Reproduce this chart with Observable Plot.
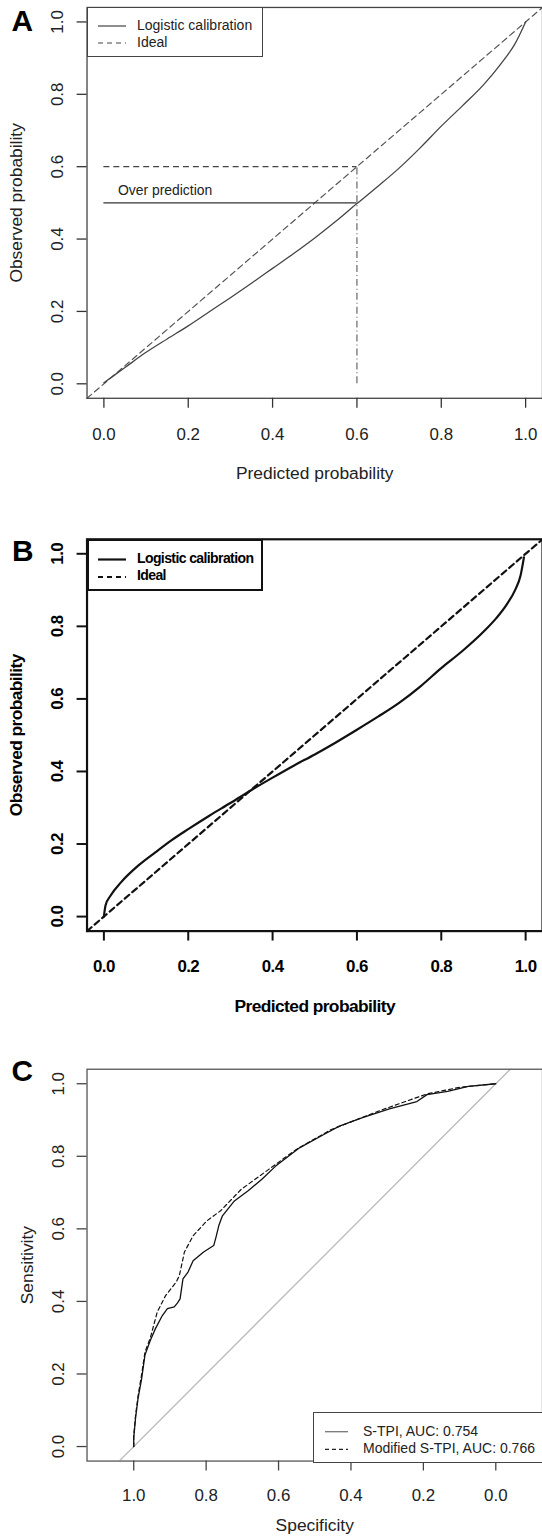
<!DOCTYPE html>
<html><head><meta charset="utf-8">
<script src="https://cdn.jsdelivr.net/npm/d3@7"></script>
<script src="https://cdn.jsdelivr.net/npm/@observablehq/plot@0.6"></script>
<style>
html,body{margin:0;padding:0;background:#fff;overflow:hidden;}
#wrap{position:relative;width:542px;height:1539px;overflow:hidden;font-family:"Liberation Sans",Arial,Helvetica,sans-serif;}
.panel{position:absolute;left:0;}
.legend{position:absolute;background:#fff;box-sizing:border-box;font-size:14px;}
.legend span{position:absolute;white-space:nowrap;line-height:14px;}
.legend svg{position:absolute;overflow:visible;}
</style></head>
<body><div id="wrap"></div>
<script>
// ---------- data ----------
const probTicks = [0, 0.2, 0.4, 0.6, 0.8, 1.0];
const specTicks = [1.0, 0.8, 0.6, 0.4, 0.2, 0.0];
const sensTicks = [0, 0.2, 0.4, 0.6, 0.8, 1.0];

// Panel A: logistic calibration curve
const calibA_x = [0, 0.05, 0.1, 0.15, 0.2, 0.25, 0.3, 0.35, 0.4, 0.45, 0.5, 0.55, 0.6, 0.65, 0.7, 0.75, 0.8, 0.85, 0.9, 0.94, 0.975, 1.0];
const calibA_y = [0.003, 0.045, 0.087, 0.124, 0.160, 0.199, 0.238, 0.278, 0.319, 0.360, 0.403, 0.449, 0.498, 0.546, 0.596, 0.652, 0.712, 0.768, 0.826, 0.882, 0.94, 1.0];
const guideX = 0.6;        // predicted probability marked
const overPredY = 0.5;     // observed at predicted 0.6
const idealAtGuide = 0.6;  // ideal observed at predicted 0.6
const overPredLabel = "Over prediction";
const overPredLabelX = 0.145;
const overPredLabelY = 0.535;

// Panel B: logistic calibration curve
const calibB_x = [0, 0.004, 0.016, 0.041, 0.082, 0.122, 0.16, 0.2, 0.25, 0.3, 0.35, 0.4, 0.45, 0.5, 0.55, 0.6, 0.65, 0.7, 0.75, 0.8, 0.85, 0.9, 0.93, 0.955, 0.975, 0.988, 0.996];
const calibB_y = [0, 0.031, 0.058, 0.095, 0.141, 0.177, 0.210, 0.241, 0.278, 0.313, 0.349, 0.383, 0.416, 0.447, 0.480, 0.515, 0.551, 0.589, 0.634, 0.685, 0.732, 0.785, 0.822, 0.86, 0.9, 0.94, 0.99];

// Panel C: ROC curves (specificity, sensitivity)
const stpi_spec = [1.0, 1.0, 0.995, 0.988, 0.978, 0.969, 0.954, 0.94, 0.921, 0.907, 0.888, 0.879, 0.872, 0.864, 0.85, 0.836, 0.807, 0.779, 0.772, 0.765, 0.755, 0.722, 0.684, 0.646, 0.608, 0.541, 0.475, 0.432, 0.37, 0.294, 0.218, 0.19, 0.133, 0.076, 0.0];
const stpi_sens = [0.0, 0.023, 0.078, 0.133, 0.188, 0.252, 0.293, 0.325, 0.361, 0.38, 0.385, 0.396, 0.407, 0.462, 0.481, 0.512, 0.536, 0.554, 0.58, 0.609, 0.636, 0.677, 0.705, 0.737, 0.773, 0.824, 0.86, 0.883, 0.906, 0.931, 0.951, 0.97, 0.979, 0.993, 1.0];
const mod_spec = [1.0, 1.0, 0.995, 0.988, 0.978, 0.969, 0.954, 0.935, 0.912, 0.883, 0.874, 0.86, 0.836, 0.798, 0.76, 0.703, 0.627, 0.551, 0.456, 0.323, 0.19, 0.1, 0.0];
const mod_sens = [0.0, 0.03, 0.085, 0.14, 0.2, 0.26, 0.3, 0.371, 0.416, 0.453, 0.471, 0.536, 0.581, 0.622, 0.65, 0.709, 0.764, 0.819, 0.873, 0.925, 0.972, 0.99, 1.0];
const rocLabels = ["S-TPI, AUC: 0.754", "Modified S-TPI, AUC: 0.766"];
const calibLabels = ["Logistic calibration", "Ideal"];

const probDomain = [-0.04, 1.04];
const specDomain = [1.129, -0.129];

// ---------- helpers ----------
const FONT = "Liberation Sans, Arial, Helvetica, sans-serif";
const wrap = document.getElementById("wrap");
const fmt = d => d.toFixed(1);

function addPanel(top, svg) {
  const d = document.createElement("div");
  d.className = "panel";
  d.style.top = top + "px";
  d.appendChild(svg);
  wrap.appendChild(d);
}

function addLegend({left, top, width, height, border, rows, weight, spacing, sampleX1, sampleX2, textX}) {
  const L = document.createElement("div");
  L.className = "legend";
  Object.assign(L.style, {left: left + "px", top: top + "px", width: width + "px", height: height + "px", border});
  const bw = parseFloat(border);
  rows.forEach(r => {
    const s = document.createElementNS("http://www.w3.org/2000/svg", "svg");
    s.setAttribute("width", 1); s.setAttribute("height", 1);
    s.style.left = "0px"; s.style.top = "0px";
    const ln = document.createElementNS("http://www.w3.org/2000/svg", "line");
    ln.setAttribute("x1", sampleX1); ln.setAttribute("x2", sampleX2);
    ln.setAttribute("y1", r.y); ln.setAttribute("y2", r.y);
    ln.setAttribute("stroke", r.color); ln.setAttribute("stroke-width", r.width);
    if (r.dash) ln.setAttribute("stroke-dasharray", r.dash);
    s.appendChild(ln);
    L.appendChild(s);
    const t = document.createElement("span");
    t.textContent = r.label;
    Object.assign(t.style, {left: textX + "px", top: (r.y - 7 - bw) + "px", fontWeight: weight, letterSpacing: spacing, color: r.textColor});
    L.appendChild(t);
  });
  wrap.appendChild(L);
}

const yLabelOpts = (dx, extra = {}) => ({y: d => d, frameAnchor: "left", dx, text: fmt, fontSize: 17, rotate: -90, textAnchor: "middle", lineAnchor: "middle", ...extra});
const xLabelOpts = (dy, extra = {}) => ({x: d => d, frameAnchor: "bottom", dy, text: fmt, fontSize: 17, textAnchor: "middle", lineAnchor: "middle", ...extra});
const xTitle = (s, dy, extra = {}) => Plot.text([s], {frameAnchor: "bottom", dy, text: d => d, fontSize: 17.5, textAnchor: "middle", lineAnchor: "middle", ...extra});
const yTitle = (s, dx, extra = {}) => Plot.text([s], {frameAnchor: "left", dx, text: d => d, fontSize: 17.5, rotate: -90, textAnchor: "middle", lineAnchor: "middle", ...extra});
const letter = (s, dy) => Plot.text([s], {frameAnchor: "top-left", dx: -65, dy, text: d => d, fontSize: 30, fontWeight: "bold", textAnchor: "middle", lineAnchor: "middle", fill: "#000"});

// ---------- Panel A ----------
const plotA = Plot.plot({
  width: 545, height: 500,
  marginLeft: 87, marginRight: 0, marginTop: 7, marginBottom: 100,
  x: {domain: probDomain},
  y: {domain: probDomain},
  style: {fontFamily: FONT, color: "#333", background: "transparent", overflow: "visible"},
  marks: [
    Plot.line(probDomain, {x: probDomain, y: probDomain, stroke: "#555", strokeWidth: 1.2, strokeDasharray: "6,4"}),
    Plot.ruleY([idealAtGuide], {x1: 0, x2: guideX, stroke: "#444", strokeWidth: 1.3, strokeDasharray: "6,4"}),
    Plot.ruleY([overPredY], {x1: 0, x2: guideX, stroke: "#333", strokeWidth: 1.5}),
    Plot.ruleX([guideX], {y1: 0, y2: idealAtGuide, stroke: "#666", strokeWidth: 1.2, strokeDasharray: "7,3,1,3"}),
    Plot.line(calibA_x, {x: calibA_x, y: calibA_y, stroke: "#444", strokeWidth: 1.3, curve: "monotone-x"}),
    Plot.text([overPredLabel], {x: overPredLabelX, y: overPredLabelY, text: d => d, fontSize: 14, fill: "#222"}),
    Plot.frame({stroke: "#444", strokeWidth: 1.3}),
    Plot.axisX({ticks: probTicks, tickSize: 10, tickFormat: () => "", label: null, strokeWidth: 1.3}),
    Plot.axisY({ticks: probTicks, tickSize: 10, tickFormat: () => "", label: null, strokeWidth: 1.3}),
    Plot.text(probTicks, xLabelOpts(36, {fill: "#222"})),
    Plot.text(probTicks, yLabelOpts(-30, {fill: "#222"})),
    xTitle("Predicted probability", 76, {fill: "#222"}),
    yTitle("Observed probability", -71, {fill: "#222"}),
    letter("A", 14)
  ]
});
addPanel(0, plotA);
addLegend({left: 87, top: 7, width: 176, height: 50, border: "1px solid #444", weight: "normal", spacing: "0px",
  sampleX1: 10, sampleX2: 38, textX: 49,
  rows: [
    {label: calibLabels[0], y: 18, color: "#444", width: 1.2, dash: null, textColor: "#222"},
    {label: calibLabels[1], y: 35, color: "#444", width: 1.2, dash: "5,4", textColor: "#222"}
  ]});

// ---------- Panel B ----------
const plotB = Plot.plot({
  width: 545, height: 520,
  marginLeft: 87, marginRight: 0, marginTop: 39, marginBottom: 87,
  x: {domain: probDomain},
  y: {domain: probDomain},
  style: {fontFamily: FONT, color: "#111", background: "transparent", overflow: "visible", letterSpacing: "-0.6px"},
  marks: [
    Plot.line(probDomain, {x: probDomain, y: probDomain, stroke: "#111", strokeWidth: 2.2, strokeDasharray: "6,4"}),
    Plot.line(calibB_x, {x: calibB_x, y: calibB_y, stroke: "#111", strokeWidth: 2.2, curve: "monotone-x"}),
    Plot.frame({stroke: "#111", strokeWidth: 2.2}),
    Plot.axisX({ticks: probTicks, tickSize: 10, tickFormat: () => "", label: null, strokeWidth: 2}),
    Plot.axisY({ticks: probTicks, tickSize: 10, tickFormat: () => "", label: null, strokeWidth: 2}),
    Plot.text(probTicks, xLabelOpts(36, {fontWeight: "bold", fill: "#000"})),
    Plot.text(probTicks, yLabelOpts(-30, {fontWeight: "bold", fill: "#000"})),
    xTitle("Predicted probability", 76, {fontWeight: "bold", fill: "#000"}),
    yTitle("Observed probability", -71, {fontWeight: "bold", fill: "#000"}),
    letter("B", 12)
  ]
});
addPanel(500, plotB);
addLegend({left: 87, top: 539, width: 176, height: 52, border: "2px solid #111", weight: "bold", spacing: "-0.6px",
  sampleX1: 9, sampleX2: 37, textX: 48,
  rows: [
    {label: calibLabels[0], y: 18.5, color: "#111", width: 2.2, dash: null, textColor: "#000"},
    {label: calibLabels[1], y: 36, color: "#111", width: 2.2, dash: "5,4", textColor: "#000"}
  ]});

// ---------- Panel C ----------
const plotC = Plot.plot({
  width: 545, height: 519,
  marginLeft: 87, marginRight: 0, marginTop: 49, marginBottom: 76,
  x: {domain: specDomain},
  y: {domain: probDomain},
  style: {fontFamily: FONT, color: "#444", background: "transparent", overflow: "visible"},
  marks: [
    Plot.line(specDomain, {x: specDomain, y: specDomain.map(s => 1 - s), stroke: "#bbb", strokeWidth: 1.3, clip: true}),
    Plot.line(mod_spec, {x: mod_spec, y: mod_sens, stroke: "#111", strokeWidth: 1.2, strokeDasharray: "4,3"}),
    Plot.line(stpi_spec, {x: stpi_spec, y: stpi_sens, stroke: "#111", strokeWidth: 1.3}),
    Plot.frame({stroke: "#555", strokeWidth: 1.3}),
    Plot.axisX({ticks: specTicks, tickSize: 10, tickFormat: () => "", label: null, strokeWidth: 1.3}),
    Plot.axisY({ticks: sensTicks, tickSize: 10, tickFormat: () => "", label: null, strokeWidth: 1.3}),
    Plot.text(specTicks, xLabelOpts(35, {fill: "#222"})),
    Plot.text(sensTicks, yLabelOpts(-29, {fill: "#222"})),
    xTitle("Specificity", 65, {fill: "#222"}),
    yTitle("Sensitivity", -60, {fill: "#222"}),
    letter("C", 2)
  ]
});
addPanel(1020, plotC);
addLegend({left: 313, top: 1412, width: 240, height: 51, border: "1px solid #444", weight: "normal", spacing: "0px",
  sampleX1: 11, sampleX2: 34, textX: 49,
  rows: [
    {label: rocLabels[0], y: 18.7, color: "#777", width: 1.3, dash: null, textColor: "#222"},
    {label: rocLabels[1], y: 36.3, color: "#222", width: 1.2, dash: "4,3", textColor: "#222"}
  ]});
</script>
</body></html>
